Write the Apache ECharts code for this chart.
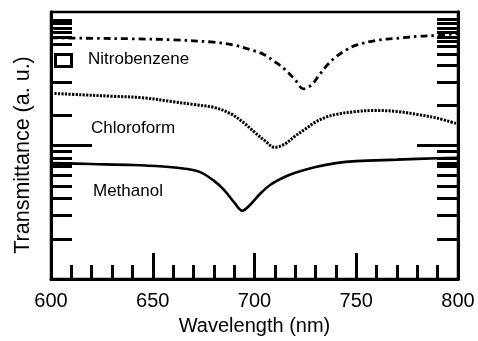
<!DOCTYPE html>
<html>
<head>
<meta charset="utf-8">
<script src="https://cdn.jsdelivr.net/npm/echarts@6/dist/echarts.min.js"></script>
<style>
  html, body { margin: 0; padding: 0; background: #fff; }
  #chart { width: 478px; height: 341px; }
</style>
</head>
<body>
<div id="chart"></div>
<script>
// Transmittance spectra of three solvents (arbitrary units, log scale)
const wavelength = {
  nitrobenzene: [600, 620, 640, 660, 680, 690, 700, 705, 710, 715, 720, 724, 728, 732, 736, 740, 745, 750, 760, 770, 780, 790, 800],
  chloroform:   [600, 615, 630, 645, 660, 670, 680, 688, 695, 700, 705, 710, 715, 720, 725, 730, 735, 740, 750, 760, 770, 780, 790, 800],
  methanol:     [600, 620, 640, 655, 665, 673, 680, 685, 690, 694, 698, 703, 708, 714, 720, 730, 740, 750, 770, 790, 800]
};
const nitrobenzene = [64.1, 63.5, 63.0, 61.9, 59.4, 56.5, 51.1, 47.7, 42.4, 37.1, 31.0, 26.6, 28.4, 34.1, 40.4, 46.2, 51.9, 56.5, 61.4, 63.5, 65.7, 66.8, 69.1];
const chloroform   = [24.6, 24.0, 23.4, 22.8, 21.3, 20.3, 19.3, 17.4, 14.7, 12.6, 10.9, 9.7, 10.3, 11.8, 13.3, 15.0, 16.3, 17.1, 18.0, 18.3, 18.0, 17.1, 16.0, 14.5];
const methanol     = [7.39, 7.27, 7.15, 6.97, 6.74, 6.35, 5.46, 4.65, 3.76, 3.25, 3.62, 4.39, 5.11, 5.74, 6.25, 6.91, 7.39, 7.64, 7.84, 8.04, 8.11];

// Tick positions on the transmittance axes
const leftTicks  = [2, 3, 4, 5, 6, 7, 7.4, 8, 9, 17, 30, 57, 65, 70, 76, 82, 87];
const rightTicks = [2, 3, 4, 5, 6, 7, 7.4, 8, 9, 20, 30, 40, 48, 55, 60, 65, 70, 76, 83, 89];
const longTicks  = [10];

const xLabels = [600, 650, 700, 750, 800];
const seriesNames = ['Nitrobenzene', 'Chloroform', 'Methanol'];
const yTitle = 'Transmittance (a. u.)';

const FONT = 'Liberation Sans, Arial, Helvetica, sans-serif';
const pair = (xs, ys) => xs.map((x, i) => [x, ys[i]]);

function yAxisDef(position, ticks, len) {
  return {
    type: 'log', logBase: 10, min: 1, max: 100, position: position,
    axisLine: { show: true, lineStyle: { color: '#000', width: 3 } },
    axisTick: { show: true, inside: true, length: len, customValues: ticks,
                lineStyle: { color: '#000', width: 3 } },
    axisLabel: { show: false },
    splitLine: { show: false },
    minorTick: { show: false }
  };
}

const chart = echarts.init(document.getElementById('chart'), null, { renderer: 'canvas' });
chart.setOption({
  animation: false,
  backgroundColor: '#fff',
  grid: { left: 51, right: 20, top: 12, bottom: 55, show: true,
          borderColor: '#000', borderWidth: 2.5, backgroundColor: 'transparent' },
  xAxis: {
    type: 'value', min: 600, max: 800, interval: 50,
    name: 'Wavelength (nm)', nameLocation: 'middle', nameGap: 30,
    nameTextStyle: { fontFamily: FONT, fontSize: 20, color: '#000' },
    axisLine: { show: true, lineStyle: { color: '#000', width: 3 } },
    axisTick: { show: true, inside: true, length: 26, lineStyle: { color: '#000', width: 3 } },
    minorTick: { show: true, splitNumber: 5, length: 14, lineStyle: { color: '#000', width: 3 } },
    axisLabel: { margin: 12, fontFamily: FONT, fontSize: 20, color: '#000',
                 customValues: xLabels, formatter: v => String(v) },
    splitLine: { show: false }
  },
  yAxis: [
    yAxisDef('left', leftTicks, 21),
    yAxisDef('left', longTicks, 41),
    yAxisDef('right', rightTicks, 21),
    yAxisDef('right', longTicks, 41)
  ],
  series: [
    { name: seriesNames[0], type: 'line', data: pair(wavelength.nitrobenzene, nitrobenzene),
      smooth: 0.35, symbol: 'none', lineStyle: { color: '#000', width: 2.8, type: [7, 4, 2.5, 4] } },
    { name: seriesNames[1], type: 'line', data: pair(wavelength.chloroform, chloroform),
      smooth: 0.35, symbol: 'none', lineStyle: { color: '#000', width: 3, type: [2.2, 1.3] } },
    { name: seriesNames[2], type: 'line', data: pair(wavelength.methanol, methanol),
      smooth: 0.35, symbol: 'none', lineStyle: { color: '#000', width: 2.6 } }
  ],
  graphic: [
    { type: 'text', x: 23, y: 155, rotation: Math.PI / 2,
      style: { text: yTitle, font: '21.5px ' + FONT, fill: '#000', align: 'center', verticalAlign: 'middle' } },
    { type: 'rect', shape: { x: 55.5, y: 54.5, width: 16, height: 12 },
      style: { fill: 'none', stroke: '#000', lineWidth: 3 } },
    { type: 'text', left: 88, top: 51,
      style: { text: seriesNames[0], font: '17px ' + FONT, fill: '#000' } },
    { type: 'text', left: 91, top: 120,
      style: { text: seriesNames[1], font: '17px ' + FONT, fill: '#000' } },
    { type: 'text', left: 93, top: 183,
      style: { text: seriesNames[2], font: '17px ' + FONT, fill: '#000' } }
  ]
});
</script>
</body>
</html>
